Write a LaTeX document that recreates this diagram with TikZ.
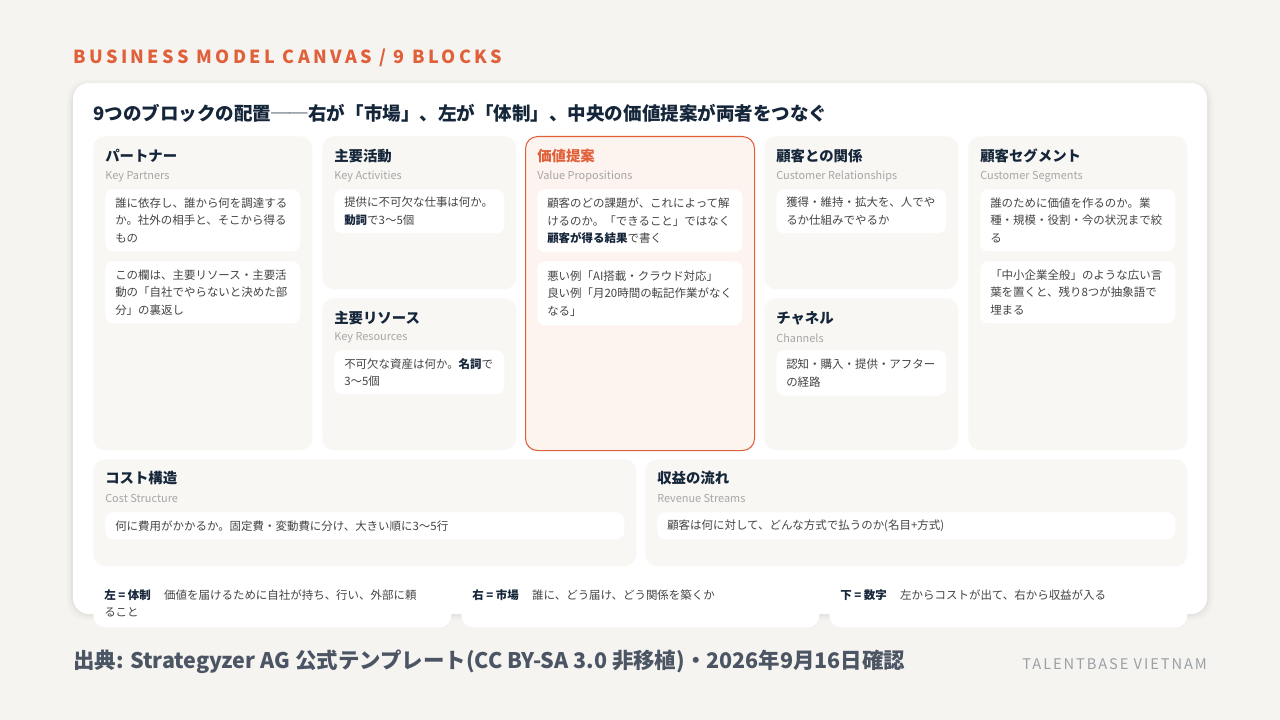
\documentclass[tikz,border=0pt]{standalone}
\usepackage{fontspec}
\setmainfont{Noto Sans CJK JP}
\newfontfamily\spacedfont[LetterSpace=19]{Noto Sans CJK JP}
\newfontfamily\brandfont[LetterSpace=13]{Noto Sans CJK JP}
\usetikzlibrary{positioning}

\definecolor{pagebg}{HTML}{F5F4F1}
\definecolor{blockfill}{HTML}{F8F7F4}
\definecolor{vpfill}{HTML}{FDF3EF}
\definecolor{accent}{HTML}{E0603A}
\definecolor{navy}{HTML}{16263A}
\definecolor{bodygray}{HTML}{444444}
\definecolor{subgray}{HTML}{A6A6A6}
\definecolor{footgray}{HTML}{4B5563}
\definecolor{brandgray}{HTML}{9AA0A6}

\newcommand{\bodyfont}{\fontsize{8.6}{13.1}\selectfont}
\newcommand{\keyword}[1]{{\bfseries\color{navy}#1}}

\tikzset{
  blockbox/.style={fill=blockfill, rounded corners=9pt, anchor=north west, inner sep=0pt},
  vpbox/.style={blockbox, fill=vpfill, draw=accent, line width=0.8pt},
  btitle/.style={anchor=west, inner sep=0pt, text=navy, font=\fontsize{10.8}{13}\selectfont\bfseries},
  bsub/.style={anchor=west, inner sep=0pt, text=subgray, font=\fontsize{8.2}{10}\selectfont},
  innerbox/.style={fill=white, rounded corners=6pt, anchor=north west, inner xsep=7.5pt, inner ysep=0pt,
    align=left, text=bodygray, font=\bodyfont},
  notebox/.style={fill=white, rounded corners=9pt, anchor=north west, inner sep=0pt,
    minimum width=268.5pt, minimum height=38.25pt},
  notetext/.style={anchor=north west, inner sep=0pt, align=left, text=bodygray, font=\bodyfont}
}

\begin{document}
\begin{tikzpicture}[x=0.75pt, y=-0.75pt]
\useasboundingbox (0,0) rectangle (1280,720);
\fill[pagebg] (0,0) rectangle (1280,720);

% header
\node[anchor=west, inner sep=0pt, text=accent, font=\spacedfont\fontsize{13.5}{16}\selectfont\bfseries] (head) at (73,58) {BUSINESS MODEL CANVAS / 9 BLOCKS};

% card
\foreach \s/\o in {6/0.015, 4/0.02, 2/0.03}
  \fill[black, opacity=\o, rounded corners=14pt] (73-\s,83-\s+3) rectangle (1207+\s,614+\s);
\fill[white, rounded corners=12pt] (73,83) rectangle (1207,614);

\node[anchor=west, inner sep=0pt, text=navy, font=\fontsize{13.9}{16}\selectfont\bfseries] (title) at (93,113)
  {9つのブロックの配置──右が「市場」、左が「体制」、中央の価値提案が両者をつなぐ};

% blocks
\node[blockbox, minimum width=164.25pt, minimum height=235.5pt] (kp) at (93,136) {};
\node[blockbox, minimum width=145.5pt, minimum height=114.75pt] (ka) at (322,136) {};
\node[blockbox, minimum width=145.5pt, minimum height=114pt] (kr) at (322,298) {};
\node[vpbox, minimum width=171.75pt, minimum height=235.5pt] (vp) at (525,136) {};
\node[blockbox, minimum width=145.5pt, minimum height=114.75pt] (cr) at (764,136) {};
\node[blockbox, minimum width=145.5pt, minimum height=114pt] (ch) at (764,298) {};
\node[blockbox, minimum width=164.25pt, minimum height=235.5pt] (cs) at (968,136) {};
\node[blockbox, minimum width=407.25pt, minimum height=80.25pt] (cost) at (93,459) {};
\node[blockbox, minimum width=406.5pt, minimum height=80.25pt] (rev) at (645,459) {};

% titles
\node[btitle] (kp-t) at ([shift={(12,20)}]kp.north west) {パートナー};
\node[bsub] (kp-s) at ([shift={(12,40.5)}]kp.north west) {Key Partners};
\node[btitle] (ka-t) at ([shift={(12,20)}]ka.north west) {主要活動};
\node[bsub] (ka-s) at ([shift={(12,40.5)}]ka.north west) {Key Activities};
\node[btitle] (kr-t) at ([shift={(12,20)}]kr.north west) {主要リソース};
\node[bsub] (kr-s) at ([shift={(12,40)}]kr.north west) {Key Resources};
\node[btitle, text=accent] (vp-t) at ([shift={(12,20)}]vp.north west) {価値提案};
\node[bsub] (vp-s) at ([shift={(12,40.5)}]vp.north west) {Value Propositions};
\node[btitle] (cr-t) at ([shift={(12,20)}]cr.north west) {顧客との関係};
\node[bsub] (cr-s) at ([shift={(12,40.5)}]cr.north west) {Customer Relationships};
\node[btitle] (ch-t) at ([shift={(12,20)}]ch.north west) {チャネル};
\node[bsub] (ch-s) at ([shift={(12,40)}]ch.north west) {Channels};
\node[btitle] (cs-t) at ([shift={(12,20)}]cs.north west) {顧客セグメント};
\node[bsub] (cs-s) at ([shift={(12,40.5)}]cs.north west) {Customer Segments};
\node[btitle] (cost-t) at ([shift={(12,19)}]cost.north west) {コスト構造};
\node[bsub] (cost-s) at ([shift={(12,39.5)}]cost.north west) {Cost Structure};
\node[btitle] (rev-t) at ([shift={(12,19)}]rev.north west) {収益の流れ};
\node[bsub] (rev-s) at ([shift={(12,39.5)}]rev.north west) {Revenue Streams};

% inner cards
\node[innerbox, text width=131.25pt, minimum height=46.5pt] (kp-a) at ([shift={(12,53)}]kp.north west)
  {誰に依存し、誰から何を調達する\\か。社外の相手と、そこから得る\\もの};
\node[innerbox, text width=131.25pt, minimum height=46.5pt] (kp-b) at ([shift={(12,125)}]kp.north west)
  {この欄は、主要リソース・主要活\\動の「自社でやらないと決めた部\\分」の裏返し};
\node[innerbox, text width=112.5pt, minimum height=33pt] (ka-a) at ([shift={(12,53)}]ka.north west)
  {提供に不可欠な仕事は何か。\\\keyword{動詞}で3〜5個};
\node[innerbox, text width=112.5pt, minimum height=33pt] (kr-a) at ([shift={(12,52)}]kr.north west)
  {不可欠な資産は何か。\keyword{名詞}で\\3〜5個};
\node[innerbox, text width=138.75pt, minimum height=47.25pt] (vp-a) at ([shift={(12,53)}]vp.north west)
  {顧客のどの課題が、これによって解\\けるのか。「できること」ではなく\\\keyword{顧客が得る結果}で書く};
\node[innerbox, text width=138.75pt, minimum height=48pt] (vp-b) at ([shift={(12,125)}]vp.north west)
  {悪い例「AI搭載・クラウド対応」\\良い例「月20時間の転記作業がなく\\なる」};
\node[innerbox, text width=112.5pt, minimum height=33pt] (cr-a) at ([shift={(12,53)}]cr.north west)
  {獲得・維持・拡大を、人でや\\るか仕組みでやるか};
\node[innerbox, text width=112.5pt, minimum height=34pt] (ch-a) at ([shift={(12,52)}]ch.north west)
  {認知・購入・提供・アフター\\の経路};
\node[innerbox, text width=131.25pt, minimum height=46.5pt] (cs-a) at ([shift={(12,53)}]cs.north west)
  {誰のために価値を作るのか。業\\種・規模・役割・今の状況まで絞\\る};
\node[innerbox, text width=131.25pt, minimum height=46.5pt] (cs-b) at ([shift={(12,125)}]cs.north west)
  {「中小企業全般」のような広い言\\葉を置くと、残り8つが抽象語で\\埋まる};
\node[innerbox, text width=374.25pt, minimum height=20.25pt] (cost-a) at ([shift={(12,53)}]cost.north west)
  {何に費用がかかるか。固定費・変動費に分け、大きい順に3〜5行};
\node[innerbox, text width=373.5pt, minimum height=20.25pt] (rev-a) at ([shift={(12,53)}]rev.north west)
  {顧客は何に対して、どんな方式で払うのか(名目+方式)};

% notes
\node[notebox] (n1) at (93,576) {};
\node[notebox] (n2) at (461,576) {};
\node[notebox] (n3) at (829,576) {};
\node[notetext] (n1-t) at ([shift={(11,13)}]n1.north west)
  {\keyword{左 = 体制}\hspace{10pt}価値を届けるために自社が持ち、行い、外部に頼\\ること};
\node[notetext] (n2-t) at ([shift={(11,13)}]n2.north west)
  {\keyword{右 = 市場}\hspace{10pt}誰に、どう届け、どう関係を築くか};
\node[notetext] (n3-t) at ([shift={(11,13)}]n3.north west)
  {\keyword{下 = 数字}\hspace{10pt}左からコストが出て、右から収益が入る};

% footer
\node[anchor=west, inner sep=0pt, text=footgray, font=\fontsize{16.1}{19}\selectfont\bfseries] (source) at (73,662)
  {出典: Strategyzer AG 公式テンプレート(CC BY-SA 3.0 非移植)・2026年9月16日確認};
\node[anchor=east, inner sep=0pt, text=brandgray, font=\brandfont\fontsize{11}{13}\selectfont] (brand) at (1207,664)
  {TALENTBASE VIETNAM};

\end{tikzpicture}
\end{document}
